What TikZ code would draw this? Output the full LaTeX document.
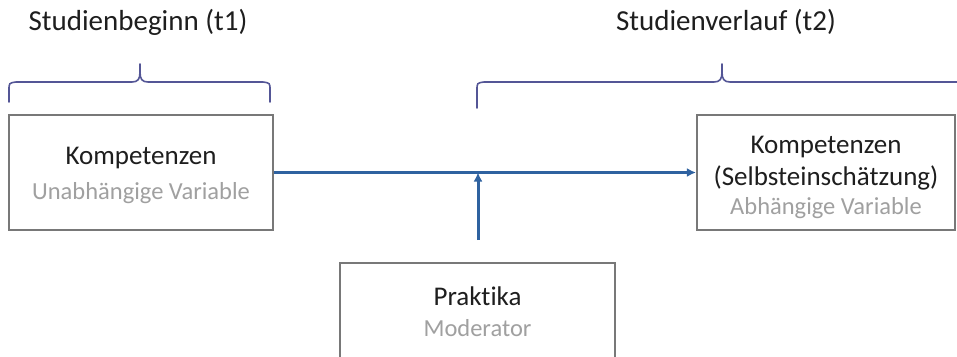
\documentclass[tikz,border=0pt]{standalone}
\usepackage{fontspec}
\setmainfont[Ligatures={NoCommon}]{Carlito}
\usetikzlibrary{arrows.meta}
\definecolor{arrowblue}{RGB}{47,98,160}
\definecolor{bracecol}{RGB}{84,86,150}
\definecolor{boxgrey}{RGB}{120,120,120}
\definecolor{subgrey}{RGB}{160,160,160}
\definecolor{txt}{RGB}{30,30,30}
\tikzset{
  box/.style={draw=boxgrey, line width=2.2pt, fill=white, inner sep=0pt},
  boxtext/.style={align=center, text=txt, inner sep=0pt, font=\fontsize{27}{33}\selectfont},
  title/.style={text=txt, inner sep=0pt, font=\fontsize{29}{34}\selectfont},
  conn/.style={draw=arrowblue, line width=3pt, -{Latex[length=9pt,width=9pt]}},
  brace/.style={draw=bracecol, line width=1.6pt, line cap=round},
}
\newcommand{\sublab}[1]{{\fontsize{24.5}{28}\selectfont\color{subgrey}#1}}
\begin{document}
\begin{tikzpicture}[x=1pt,y=-1pt]
\useasboundingbox (0,0) rectangle (957,356);
\clip (0,0) rectangle (957,356);
% titles
\node[title] (t1) at (138,22) {Studienbeginn (t1)};
\node[title] (t2) at (726,22) {Studienverlauf (t2)};
% braces
\draw[brace] (9,102) -- (9,90) .. controls (9,83) .. (16,82) -- (132,82) .. controls (138,82) and (140,79) .. (140,72) -- (140,64)
  (140,72) .. controls (140,79) and (142,82) .. (148,82) -- (263,82) .. controls (270,83) .. (270,90) -- (270,102);
\draw[brace] (477,108) -- (477,90) .. controls (477,83) .. (484,82) -- (714,82) .. controls (720,82) and (722,79) .. (722,72) -- (722,64)
  (722,72) .. controls (722,79) and (724,82) .. (730,82) -- (960,82);
% boxes
\node[box, minimum width=264pt, minimum height=115pt] (a) at (141,172.5) {};
\node[boxtext] (at) at (141,175.5) {Kompetenzen\\[2pt]\sublab{Unabhängige Variable}};
\node[box, minimum width=258pt, minimum height=115pt] (b) at (826,172.5) {};
\node[boxtext] (bt) at (826,177) {Kompetenzen\\[-1pt](Selbsteinschätzung)\\[-4pt]\sublab{Abhängige Variable}};
\node[box, minimum width=275pt, minimum height=98pt] (c) at (477.5,312) {};
\node[boxtext] (ct) at (477.5,312) {Praktika\\[-2pt]\sublab{Moderator}};
% connectors
\coordinate (m) at (478,172.5);
\coordinate (s) at (478,240);
\draw[conn] (a.east) -- (b.west);
\draw[conn] (s) -- (m);
\end{tikzpicture}
\end{document}
